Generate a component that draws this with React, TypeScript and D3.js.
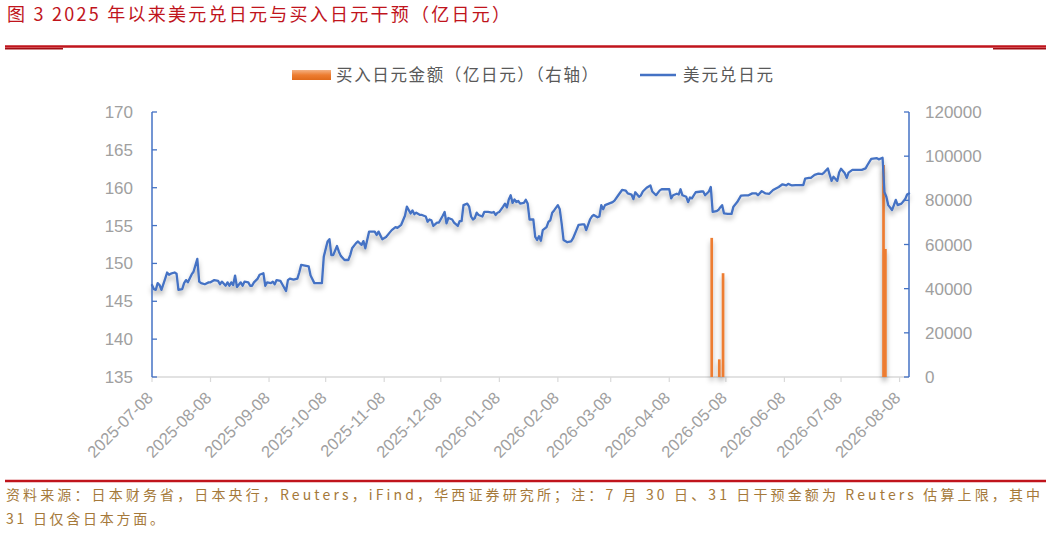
import React from "react";
import * as d3 from "d3";

const lineDates = [
  "2025-07-08","2025-07-09","2025-07-10","2025-07-11","2025-07-12","2025-07-13","2025-07-15","2025-07-16","2025-07-17","2025-07-18",
  "2025-07-20","2025-07-21","2025-07-22","2025-07-24","2025-07-25","2025-07-26","2025-07-27","2025-07-29","2025-07-30","2025-08-01",
  "2025-08-02","2025-08-03","2025-08-05","2025-08-07","2025-08-08","2025-08-10","2025-08-12","2025-08-13","2025-08-14","2025-08-16",
  "2025-08-17","2025-08-18","2025-08-19","2025-08-20","2025-08-21","2025-08-22","2025-08-24","2025-08-25","2025-08-26","2025-08-28",
  "2025-08-29","2025-08-30","2025-08-31","2025-09-02","2025-09-03","2025-09-05","2025-09-06","2025-09-07","2025-09-09","2025-09-10",
  "2025-09-11","2025-09-12","2025-09-14","2025-09-15","2025-09-17","2025-09-18","2025-09-19","2025-09-21","2025-09-23","2025-09-24",
  "2025-09-25","2025-09-27","2025-09-29","2025-09-30","2025-10-02","2025-10-06","2025-10-07","2025-10-09","2025-10-10","2025-10-11",
  "2025-10-12","2025-10-14","2025-10-15","2025-10-16","2025-10-18","2025-10-20","2025-10-21","2025-10-22","2025-10-24","2025-10-25",
  "2025-10-27","2025-10-28","2025-10-29","2025-10-31","2025-11-03","2025-11-04","2025-11-05","2025-11-07","2025-11-09","2025-11-11",
  "2025-11-12","2025-11-14","2025-11-15","2025-11-17","2025-11-19","2025-11-20","2025-11-22","2025-11-23","2025-11-24","2025-11-25",
  "2025-11-27","2025-11-28","2025-11-30","2025-12-01","2025-12-02","2025-12-03","2025-12-04","2025-12-06","2025-12-07","2025-12-09",
  "2025-12-10","2025-12-11","2025-12-12","2025-12-14","2025-12-15","2025-12-17","2025-12-18","2025-12-19","2025-12-20","2025-12-22",
  "2025-12-23","2025-12-24","2025-12-25","2025-12-26","2025-12-27","2025-12-28","2025-12-30","2025-12-31","2026-01-02","2026-01-04",
  "2026-01-05","2026-01-06","2026-01-07","2026-01-08","2026-01-10","2026-01-11","2026-01-12","2026-01-13","2026-01-14","2026-01-15",
  "2026-01-16","2026-01-17","2026-01-18","2026-01-19","2026-01-21","2026-01-22","2026-01-23","2026-01-24","2026-01-26","2026-01-27",
  "2026-01-28","2026-01-29","2026-01-30","2026-01-31","2026-02-02","2026-02-03","2026-02-04","2026-02-05","2026-02-06","2026-02-08",
  "2026-02-09","2026-02-10","2026-02-11","2026-02-13","2026-02-15","2026-02-16","2026-02-18","2026-02-19","2026-02-21","2026-02-22",
  "2026-02-23","2026-02-25","2026-02-26","2026-02-27","2026-03-01","2026-03-02","2026-03-03","2026-03-04","2026-03-05","2026-03-07",
  "2026-03-09","2026-03-10","2026-03-12","2026-03-14","2026-03-16","2026-03-17","2026-03-19","2026-03-20","2026-03-21","2026-03-23",
  "2026-03-24","2026-03-25","2026-03-27","2026-03-29","2026-03-30","2026-04-01","2026-04-03","2026-04-04","2026-04-06","2026-04-08",
  "2026-04-09","2026-04-10","2026-04-12","2026-04-13","2026-04-14","2026-04-15","2026-04-17","2026-04-18","2026-04-19","2026-04-20",
  "2026-04-22","2026-04-25","2026-04-26","2026-04-27","2026-04-29","2026-04-30","2026-05-01","2026-05-03","2026-05-04","2026-05-05",
  "2026-05-06","2026-05-07","2026-05-09","2026-05-11","2026-05-12","2026-05-14","2026-05-16","2026-05-18","2026-05-20","2026-05-22",
  "2026-05-24","2026-05-25","2026-05-27","2026-05-29","2026-05-31","2026-06-02","2026-06-05","2026-06-07","2026-06-09","2026-06-10",
  "2026-06-12","2026-06-14","2026-06-16","2026-06-18","2026-06-19","2026-06-21","2026-06-22","2026-06-24","2026-06-26","2026-06-28",
  "2026-06-29","2026-07-01","2026-07-02","2026-07-03","2026-07-04","2026-07-06","2026-07-07","2026-07-08","2026-07-10","2026-07-11",
  "2026-07-12","2026-07-14","2026-07-16","2026-07-19","2026-07-21","2026-07-22","2026-07-24","2026-07-27","2026-07-28","2026-07-30",
  "2026-07-31","2026-08-01","2026-08-02","2026-08-04","2026-08-05","2026-08-06","2026-08-07","2026-08-09","2026-08-11","2026-08-12",
  "2026-08-13"
];

const lineValues = [
  147.15,146.6,146.5,147.4,147.15,146.5,148.0,148.8,148.5,148.65,
  148.8,148.65,146.5,146.6,147.4,147.8,147.5,148.55,148.9,150.6,
  147.6,147.4,147.25,147.5,147.5,147.8,147.7,147.25,147.6,147.05,
  147.5,147.05,147.5,147.15,148.4,146.9,147.5,147.05,147.6,147.5,
  147.05,147.05,147.5,148.0,148.5,148.7,147.05,147.5,147.4,147.6,
  147.25,147.8,147.7,147.25,146.35,147.8,148.0,147.85,148.0,148.8,
  149.8,149.7,149.6,148.4,147.4,147.4,150.9,152.9,153.2,151.1,
  151.1,152.3,151.55,151.0,150.45,150.45,151.1,152.0,152.65,152.9,
  152.45,152.95,152.0,154.2,154.2,153.75,154.2,153.2,153.5,154.1,
  154.4,154.8,154.7,155.1,156.3,157.5,156.6,157.0,156.5,156.7,
  156.4,156.4,156.2,155.5,155.8,155.7,154.95,155.4,155.4,156.3,
  156.8,155.3,156.0,155.8,155.4,154.95,155.6,155.6,157.7,157.9,
  157.5,156.2,155.8,156.0,156.7,156.4,156.2,156.8,156.8,156.7,
  156.8,156.4,156.7,156.8,157.5,157.9,157.4,158.45,159.0,158.0,
  158.45,158.1,158.25,157.9,158.0,158.4,157.9,155.8,155.8,153.5,
  153.1,153.6,153.0,154.4,154.8,155.5,155.7,156.7,157.0,157.7,
  157.15,155.3,153.1,152.8,152.9,153.3,154.5,155.1,155.15,155.15,
  154.4,155.8,156.2,156.4,156.1,156.2,157.7,157.15,157.7,157.9,
  158.1,158.3,159.0,159.7,159.6,159.25,159.1,158.5,159.4,158.8,
  159.0,159.5,160.0,160.3,159.5,159.0,159.65,159.8,159.8,159.8,
  158.6,159.0,159.2,159.1,159.8,159.0,158.8,158.1,158.7,158.6,
  159.4,159.5,159.5,159.0,159.5,160.1,156.8,156.9,157.05,157.4,
  157.7,156.6,156.55,156.55,157.5,158.1,158.95,159.0,159.0,159.25,
  159.25,159.0,159.55,159.25,159.2,159.7,160.1,160.45,160.3,160.5,
  160.3,160.35,160.35,160.35,161.2,161.3,161.3,161.7,161.85,161.8,
  162.0,162.55,161.7,160.9,161.45,160.9,162.0,162.5,161.9,161.3,
  162.0,162.35,162.35,162.35,162.55,163.0,163.8,163.9,163.75,163.95,
  159.4,158.8,157.7,157.05,157.7,158.4,157.7,157.9,158.5,159.1,
  159.25
];

const barDates = ["2026-04-30", "2026-05-04", "2026-05-06", "2026-07-30", "2026-07-31"];
const barValues = [63000, 8000, 47000, 96000, 58000];

const xTickLabels = [
  "2025-07-08","2025-08-08","2025-09-08","2025-10-08","2025-11-08","2025-12-08","2026-01-08",
  "2026-02-08","2026-03-08","2026-04-08","2026-05-08","2026-06-08","2026-07-08","2026-08-08"
];
const leftTicks = [135, 140, 145, 150, 155, 160, 165, 170];
const rightTicks = [0, 20000, 40000, 60000, 80000, 100000, 120000];

const titleText = "图 3 2025 年以来美元兑日元与买入日元干预（亿日元）";
const legendBarText = "买入日元金额（亿日元）（右轴）";
const legendLineText = "美元兑日元";
const sourceLine1 = "资料来源：日本财务省，日本央行，Reuters，iFind，华西证券研究所；注：7 月 30 日、31 日干预金额为 Reuters 估算上限，其中";
const sourceLine2 = "31 日仅含日本方面。";

const W = 1053;
const H = 533;
const PL = 152, PR = 909, PT = 112, PB = 377;
const BLUE = "#4472C4";
const ORANGE = "#ED7D31";
const RED = "#C0141C";
const GRAY = "#A0A0A0";
const CJK = "'Noto Sans CJK SC', 'Noto Sans', sans-serif";
const NUM = "'Liberation Sans', Arial, sans-serif";

export default function App() {
  const parse = d3.timeParse("%Y-%m-%d");
  const x = d3.scaleTime()
    .domain([parse("2025-07-08") as Date, parse("2026-08-13") as Date])
    .range([PL, PR]);
  const yL = d3.scaleLinear().domain([135, 170]).range([PB, PT]);
  const yR = d3.scaleLinear().domain([0, 120000]).range([PB, PT]);
  const dayW = x(parse("2025-07-09") as Date) - x(parse("2025-07-08") as Date);

  const pts = lineDates.map((d, i) => [parse(d) as Date, lineValues[i]] as [Date, number]);
  const linePath = d3.line<[Date, number]>()
    .x(d => x(d[0]))
    .y(d => yL(d[1]))(pts) || "";

  const barW = 2.7;

  return (
    <svg width={W} height={H} style={{ position: "absolute", left: 0, top: 0, background: "#fff" }}>
      <defs>
        <filter id="shadow" x="-20%" y="-20%" width="140%" height="160%">
          <feGaussianBlur in="SourceAlpha" stdDeviation="2.6" />
          <feOffset dx="0" dy="4" result="ob" />
          <feFlood floodColor="#000" floodOpacity="0.32" />
          <feComposite in2="ob" operator="in" result="sh" />
          <feMerge>
            <feMergeNode in="sh" />
            <feMergeNode in="SourceGraphic" />
          </feMerge>
        </filter>
        <linearGradient id="legGrad" x1="0" y1="0" x2="0" y2="1">
          <stop offset="0" stopColor="#F4B183" />
          <stop offset="0.5" stopColor={ORANGE} />
          <stop offset="1" stopColor="#E06A1B" />
        </linearGradient>
      </defs>

      {/* Title */}
      <text x={7} y={21} fill={RED} fontFamily={CJK} fontSize={18}
        textLength={503} lengthAdjust="spacing">{titleText}</text>
      <line x1={5} x2={1046} y1={46.5} y2={46.5} stroke={RED} strokeWidth={2.6} />
      <line x1={5} x2={63} y1={48.8} y2={48.8} stroke="#A00E14" strokeWidth={1.4} />
      <line x1={993} x2={1046} y1={48.8} y2={48.8} stroke="#A00E14" strokeWidth={1.4} />

      {/* Legend */}
      <rect x={292} y={70} width={39} height={10} fill="url(#legGrad)" />
      <text x={336} y={81} fill="#595959" fontFamily={CJK} fontSize={16.5}
        textLength={262} lengthAdjust="spacing">{legendBarText}</text>
      <line x1={640} x2={676} y1={75} y2={75} stroke={BLUE} strokeWidth={2.5} />
      <text x={683} y={81} fill="#595959" fontFamily={CJK} fontSize={16.5}
        textLength={90} lengthAdjust="spacing">{legendLineText}</text>

      {/* Bottom axis */}
      <line x1={PL} x2={PR} y1={PB} y2={PB} stroke="#D9D9D9" strokeWidth={1.5} />
      {xTickLabels.map(t => {
        const xx = x(parse(t) as Date);
        return (
          <g key={t}>
            <line x1={xx} x2={xx} y1={PB} y2={PB + 5} stroke="#D9D9D9" strokeWidth={1.2} />
            <text transform={`translate(${xx + 2},${PB + 22}) rotate(-45)`} textAnchor="end"
              fill={GRAY} fontFamily={NUM} fontSize={16.5}>{t}</text>
          </g>
        );
      })}

      {/* Bars */}
      <g filter="url(#shadow)">
        {barDates.map((d, i) => {
          const cx = x(parse(d) as Date) + dayW / 2;
          return (
            <rect key={d} x={cx - barW / 2} y={yR(barValues[i])} width={barW}
              height={PB - yR(barValues[i])} fill={ORANGE} />
          );
        })}
      </g>

      {/* Line */}
      <path d={linePath} fill="none" stroke={BLUE} strokeWidth={2.3}
        strokeLinejoin="round" strokeLinecap="round" filter="url(#shadow)" />

      {/* Left axis */}
      <line x1={PL} x2={PL} y1={PT} y2={PB} stroke={BLUE} strokeWidth={1.5} />
      {leftTicks.map(t => (
        <g key={t}>
          <line x1={PL} x2={PL + 5} y1={yL(t)} y2={yL(t)} stroke={BLUE} strokeWidth={1.3} />
          <text x={133} y={yL(t) + 6} textAnchor="end" fill={GRAY} fontFamily={NUM} fontSize={17}>{t}</text>
        </g>
      ))}

      {/* Right axis */}
      <line x1={PR} x2={PR} y1={PT} y2={PB} stroke={BLUE} strokeWidth={1.5} />
      {rightTicks.map(t => (
        <g key={t}>
          <line x1={PR - 5} x2={PR} y1={yR(t)} y2={yR(t)} stroke={BLUE} strokeWidth={1.3} />
          <text x={925} y={yR(t) + 6} textAnchor="start" fill={GRAY} fontFamily={NUM} fontSize={17}>{t}</text>
        </g>
      ))}

      {/* Footer */}
      <line x1={5} x2={1046} y1={481} y2={481} stroke={RED} strokeWidth={2.6} />
      <text x={6} y={500} fill="#A5793A" fontFamily={CJK} fontSize={14}
        textLength={1034} lengthAdjust="spacing">{sourceLine1}</text>
      <text x={6} y={524} fill="#A5793A" fontFamily={CJK} fontSize={14}
        textLength={158} lengthAdjust="spacing">{sourceLine2}</text>
    </svg>
  );
}
